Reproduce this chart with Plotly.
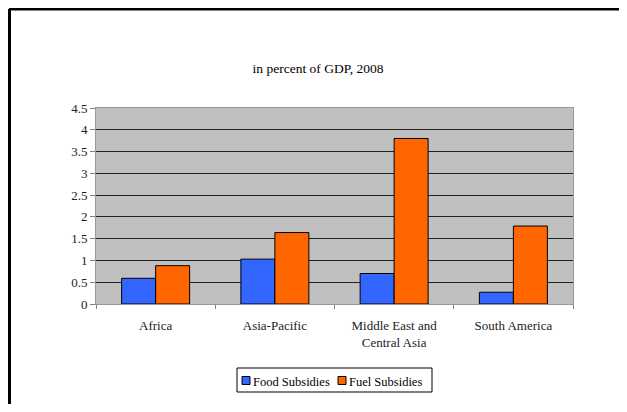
import plotly.graph_objects as go

# Dados
regioes = ["Africa", "Asia-Pacific", "Middle East and<br>Central Asia", "South America"]
subsidios_alimentos = [0.59, 1.03, 0.70, 0.27]
subsidios_combustivel = [0.88, 1.64, 3.80, 1.79]
series = ["Food Subsidies", "Fuel Subsidies"]
cores = ["#3366FF", "#FF6600"]

fonte = "Liberation Serif, Times New Roman, serif"

fig = go.Figure()
for nome, valores, cor in zip(series, [subsidios_alimentos, subsidios_combustivel], cores):
    fig.add_trace(go.Bar(
        x=regioes, y=valores, name=nome,
        marker=dict(color=cor, line=dict(color="black", width=1)),
    ))

# o body da página tem 8px de margem: desloca tudo 8px e evita barras de rolagem
OFF = 8
LARG, ALT = 627 - 2 * OFF, 412 - 2 * OFF
L, T = 96 - OFF, 108 - OFF
R, B = LARG - (573 - OFF), ALT - (304 - OFF)
W, H = LARG - L - R, ALT - T - B

def px_x(p):
    return (p - OFF - L) / W

def px_y(p):
    return (ALT - B - (p - OFF)) / H

# moldura preta da página (linha superior e linha à esquerda)
fig.add_shape(type="line", xref="paper", yref="paper",
              x0=px_x(9), x1=px_x(640), y0=px_y(9), y1=px_y(9),
              line=dict(color="black", width=3))
fig.add_shape(type="line", xref="paper", yref="paper",
              x0=px_x(9.5), x1=px_x(9.5), y0=px_y(9), y1=px_y(420),
              line=dict(color="black", width=3))

# legenda desenhada à mão, mais compacta como no original
fig.add_shape(type="rect", xref="paper", yref="paper",
              x0=px_x(237), x1=px_x(432), y0=px_y(368), y1=px_y(392),
              line=dict(color="black", width=1), fillcolor="white")
for x_quad, x_txt, nome, cor in zip([242, 338], [251, 347], series, cores):
    fig.add_shape(type="rect", xref="paper", yref="paper",
                  x0=px_x(x_quad), x1=px_x(x_quad + 8), y0=px_y(376.5), y1=px_y(384.5),
                  line=dict(color="black", width=1), fillcolor=cor)
    fig.add_annotation(xref="paper", yref="paper", x=px_x(x_txt), y=px_y(381.5),
                       xanchor="left", yanchor="middle", showarrow=False,
                       text=nome, font=dict(family=fonte, size=12.5, color="black"))

fig.update_layout(
    width=LARG, height=ALT,
    margin=dict(l=L, r=R, t=T, b=B),
    paper_bgcolor="white",
    plot_bgcolor="#C0C0C0",
    barmode="group",
    bargap=0.43,
    bargroupgap=0,
    font=dict(family=fonte, size=13, color="black"),
    title=dict(text="in percent of GDP, 2008", x=(318 - OFF) / LARG, xanchor="center",
               y=1 - (68 - OFF) / ALT, yanchor="middle",
               font=dict(family=fonte, size=13.5, color="black")),
    showlegend=False,
)
fig.update_yaxes(
    range=[0, 4.5], dtick=0.5,
    showgrid=True, gridcolor="#222222", gridwidth=1,
    ticks="outside", ticklen=5, tickcolor="#808080",
    showline=True, linecolor="#999999", mirror=True,
    zeroline=False,
    tickfont=dict(family=fonte, size=13, color="#222222"),
)
fig.update_xaxes(
    tickson="boundaries", ticks="outside", ticklen=4, tickcolor="#808080",
    showline=True, linecolor="#999999", mirror=True,
    ticklabelstandoff=9,
    tickfont=dict(family=fonte, size=13, color="#222222"),
)

fig.write_html("out.html")
